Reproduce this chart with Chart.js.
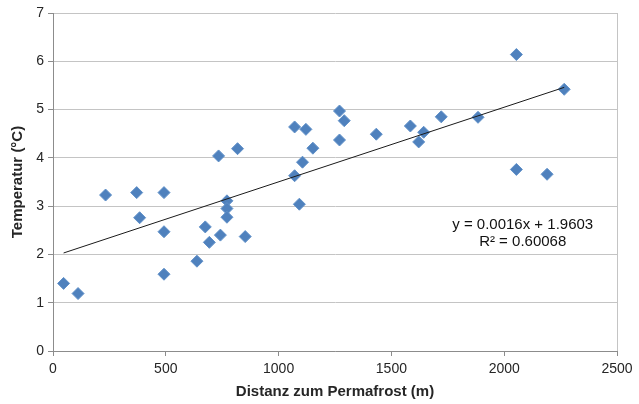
<!DOCTYPE html>
<html>
<head>
<meta charset="utf-8">
<script src="https://cdn.jsdelivr.net/npm/chart.js@4.4.1/dist/chart.umd.min.js"></script>
<style>
html,body{margin:0;padding:0;background:#fff;}
#wrap{width:639px;height:404px;}
</style>
</head>
<body>
<div id="wrap"><canvas id="chart" width="639" height="404"></canvas></div>
<script>
/* ═══════════════════════════════════
   DATA
═══════════════════════════════════ */
var distanceM = [47,111,233,371,384,492,492,492,638,675,693,734,742,771,771,771,818,852,
  1071,1071,1092,1106,1121,1152,1270,1291,1270,1433,1584,1621,1643,1721,1884,2054,2266,2054,2190];
var temperatureC = [1.40,1.19,3.23,3.28,2.76,3.28,2.47,1.59,1.86,2.57,2.25,4.04,2.40,3.11,2.95,2.77,4.19,2.37,
  4.64,3.63,3.04,3.91,4.59,4.20,4.97,4.77,4.37,4.49,4.66,4.33,4.53,4.85,4.84,6.14,5.42,3.76,3.66];

// linear trendline, ends
var trendDistance = [47,2266];
var trendTemp = [2.03,5.46];

var trendLabel = ['y = 0.0016x + 1.9603','R\u00b2 = 0.60068'];
var trendLabelPos = {x:2082, y:[2.62,2.25]};

var xMin = 0, xMax = 2500, xStep = 500;
var yMin = 0, yMax = 7, yStep = 1;

var FONT = "'Liberation Sans', Arial, Helvetica, sans-serif";
var TXT = '#262626';

/* right border of plot + trendline equation text */
var extras = {
  id:'extras',
  afterDraw:function(chart){
    var c = chart.ctx, a = chart.chartArea;
    var xs = chart.scales.x, ys = chart.scales.y;
    c.save();
    c.strokeStyle = '#c4c4c4';
    c.lineWidth = 1;
    c.beginPath();
    c.moveTo(Math.round(a.right)+0.5, a.top);
    c.lineTo(Math.round(a.right)+0.5, a.bottom);
    c.stroke();
    c.fillStyle = '#111';
    c.font = '15px '+FONT;
    c.textAlign = 'center';
    c.textBaseline = 'middle';
    trendLabel.forEach(function(t,i){
      c.fillText(t, xs.getPixelForValue(trendLabelPos.x), ys.getPixelForValue(trendLabelPos.y[i]));
    });
    c.restore();
  }
};

var points = distanceM.map(function(d,i){return {x:d, y:temperatureC[i]};});
var trend = trendDistance.map(function(d,i){return {x:d, y:trendTemp[i]};});

new Chart(document.getElementById('chart'), {
  type:'scatter',
  data:{
    datasets:[
      {
        label:'Temperatur',
        data:points,
        pointStyle:'rectRot',
        pointRadius:6,
        pointBackgroundColor:'#4f81bd',
        pointBorderColor:'#6090c8',
        pointBorderWidth:1,
        order:1
      },
      {
        label:'Trend',
        type:'line',
        data:trend,
        borderColor:'#1a1a1a',
        borderWidth:1,
        pointRadius:0,
        fill:false,
        order:0
      }
    ]
  },
  options:{
    responsive:false,
    animation:false,
    layout:{padding:{left:9, right:22, top:13, bottom:3}},
    plugins:{legend:{display:false}, tooltip:{enabled:false}},
    scales:{
      x:{
        type:'linear', min:xMin, max:xMax,
        afterFit:function(s){s.height = 50;},
        ticks:{stepSize:xStep, color:TXT, font:{family:FONT, size:14}, padding:5, maxRotation:0,
          callback:function(v){return String(v);}},
        grid:{drawOnChartArea:false, drawTicks:true, tickLength:5, tickColor:'#8c8c8c'},
        border:{color:'#8c8c8c'},
        title:{display:true, text:'Distanz zum Permafrost (m)', color:TXT, padding:0,
          font:{family:FONT, size:15, weight:'bold'}}
      },
      y:{
        min:yMin, max:yMax,
        afterFit:function(s){s.width = 44;},
        ticks:{stepSize:yStep, color:TXT, font:{family:FONT, size:14}, padding:4,
          callback:function(v){return String(v);}},
        grid:{color:'#c4c4c4', tickLength:5, tickColor:'#8c8c8c'},
        border:{color:'#8c8c8c'},
        title:{display:true, text:'Temperatur (\u00b0C)', color:TXT, padding:0,
          font:{family:FONT, size:15, weight:'bold'}}
      }
    }
  },
  plugins:[extras]
});
</script>
</body>
</html>
